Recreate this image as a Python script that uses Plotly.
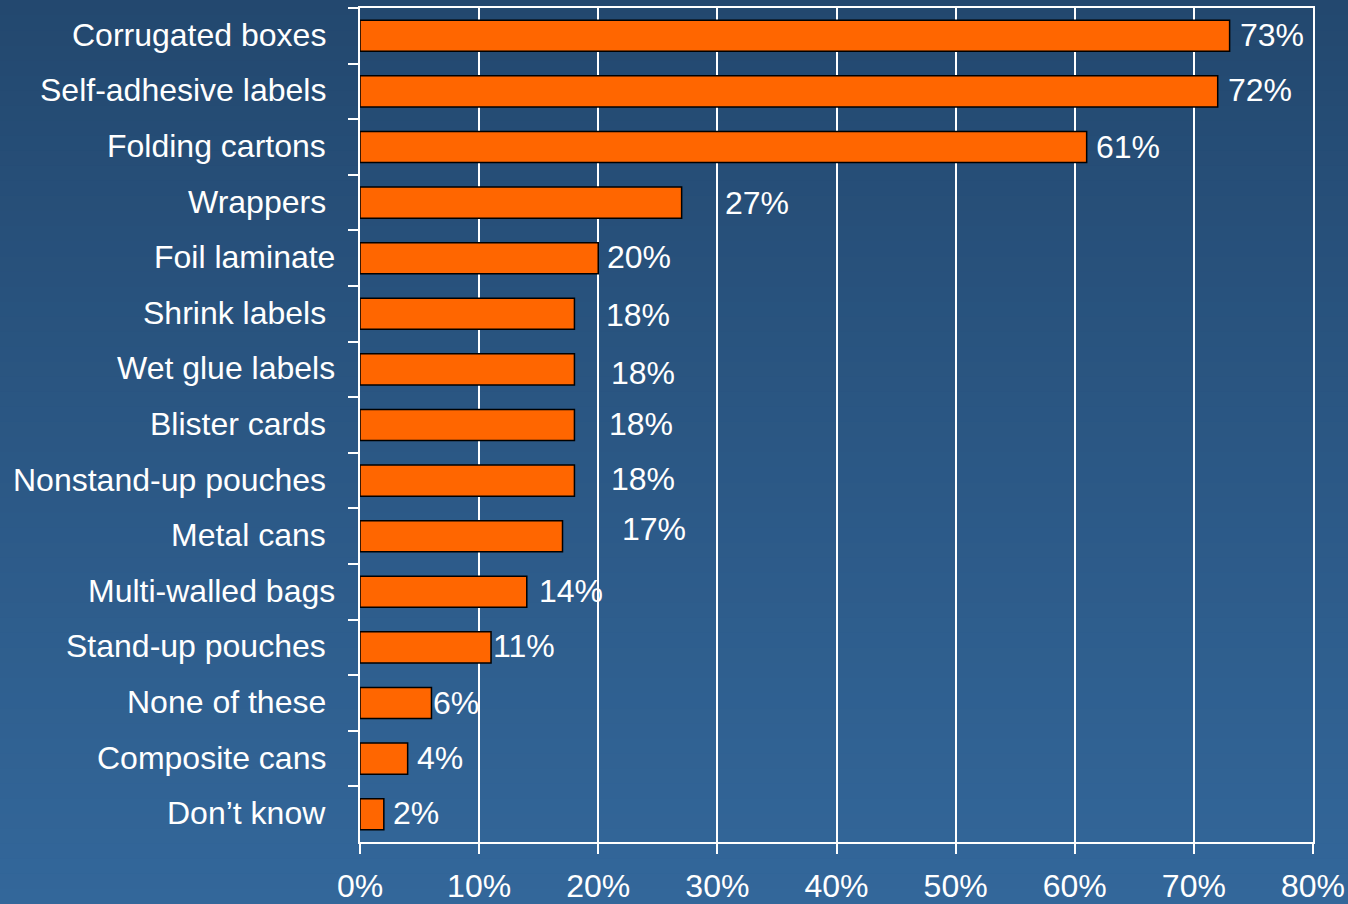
import plotly.graph_objects as go

categories = ["Corrugated boxes", "Self-adhesive labels", "Folding cartons", "Wrappers",
              "Foil laminate", "Shrink labels", "Wet glue labels", "Blister cards",
              "Nonstand-up pouches", "Metal cans", "Multi-walled bags", "Stand-up pouches",
              "None of these", "Composite cans", "Don\u2019t know"]
values = [73, 72, 61, 27, 20, 18, 18, 18, 18, 17, 14, 11, 6, 4, 2]
value_labels = ["73%", "72%", "61%", "27%", "20%", "18%", "18%", "18%", "18%", "17%",
                "14%", "11%", "6%", "4%", "2%"]
x_ticks = [0, 10, 20, 30, 40, 50, 60, 70, 80]

# label placement tweaks (pixels) mimicking the original slide
val_dx = [8, 8, 7, 41, 7, 30, 35, 33, 35, 57, 10, 0, 0, 7, 7]
val_dy = [0, 0, 1, 1, 0, 2, 5, 0, -1, -6, 0, 0, 1, 0, 0]   # positive = down
cat_dx = [-32, -32, -32, -32, -23, -32, -23, -32, -32, -32, -23, -32, -32, -32, -32]

FONT = "Liberation Sans, Arial, sans-serif"
FS = 32
W, H = 1348, 904

fig = go.Figure()
fig.add_trace(go.Bar(
    x=values, y=categories, orientation="h",
    marker=dict(color="#FF6600", line=dict(color="#000000", width=1.5)),
    hoverinfo="x+y",
))

# gradient background built from horizontal strips
ml, mr, mt, mb = 360, 35, 8, 62
pw = W - ml - mr
ph = H - mt - mb
top = (0x23, 0x48, 0x6F)
bot = (0x33, 0x67, 0x9A)
n = 60
strip = H / n
shapes = []
for i in range(n):
    t = i / (n - 1)
    c = tuple(round(top[k] + (bot[k] - top[k]) * t) for k in range(3))
    py0 = i * strip - (2 if i == 0 else 0)
    py1 = (i + 1) * strip + (3 if i == n - 1 else 1)
    shapes.append(dict(type="rect", xref="paper", yref="paper",
                       x0=-(ml + 5) / pw, x1=1 + (mr + 5) / pw,
                       y0=(H - mb - py1) / ph, y1=(H - mb - py0) / ph,
                       line=dict(width=0), fillcolor="rgb(%d,%d,%d)" % c, layer="below"))

annotations = []
for i, (cat, v, lab) in enumerate(zip(categories, values, value_labels)):
    annotations.append(dict(x=v, y=cat, xref="x", yref="y", text=lab, showarrow=False,
                            xanchor="left", yanchor="middle", xshift=val_dx[i], yshift=1 - val_dy[i],
                            font=dict(family=FONT, size=FS, color="white")))
    annotations.append(dict(x=0, y=cat, xref="x domain", yref="y", text=cat, showarrow=False,
                            xanchor="right", yanchor="middle", xshift=cat_dx[i], yshift=1,
                            font=dict(family=FONT, size=FS, color="white")))

fig.update_layout(
    width=W, height=H,
    margin=dict(l=ml, r=mr, t=mt, b=mb, autoexpand=False),
    paper_bgcolor="rgb(35,72,111)",
    plot_bgcolor="rgba(0,0,0,0)",
    showlegend=False,
    bargap=0.44,
    shapes=shapes,
    annotations=annotations,
    font=dict(family=FONT, color="white", size=FS),
    xaxis=dict(range=[0, 80], tickvals=x_ticks, ticktext=[f"{t}%" for t in x_ticks],
               showgrid=True, gridcolor="white", gridwidth=2,
               showline=True, linecolor="white", linewidth=2, mirror=True,
               ticks="outside", ticklen=10, tickcolor="white", tickwidth=2,
               ticklabelstandoff=5, automargin=False,
               tickfont=dict(family=FONT, size=FS, color="white"),
               zeroline=False, fixedrange=True),
    yaxis=dict(autorange="reversed", showticklabels=False, automargin=False,
               ticks="outside", tickson="boundaries", ticklen=10, tickcolor="white", tickwidth=2,
               showline=True, linecolor="white", linewidth=2, mirror=True,
               showgrid=False, fixedrange=True),
)

fig.write_html("out.html")
